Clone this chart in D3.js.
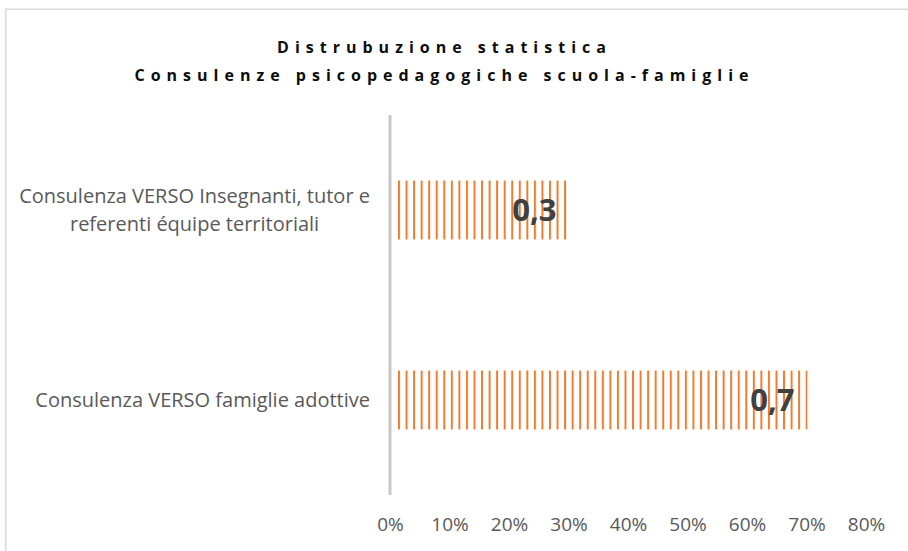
<!DOCTYPE html>
<html>
<head>
<meta charset="utf-8">
<script src="https://cdn.jsdelivr.net/npm/d3@7"></script>
<style>
  html, body { margin: 0; padding: 0; background: #fff; }
  svg { display: block; }
</style>
</head>
<body>
<svg id="chart" width="908" height="551"></svg>
<script>
// Data
const categories = [
  ["Consulenza VERSO Insegnanti, tutor e", "referenti équipe territoriali"],
  ["Consulenza VERSO famiglie adottive"]
];
const values = [0.3, 0.7];
const valueLabels = ["0,3", "0,7"];
const tickValues = [0, 0.1, 0.2, 0.3, 0.4, 0.5, 0.6, 0.7, 0.8];
const titleLines = ["Distrubuzione statistica", "Consulenze psicopedagogiche scuola-famiglie"];

const svg = d3.select("#chart");
const font = "'Open Sans', Lato, sans-serif";

// chart frame
svg.append("rect")
  .attr("x", 5.75).attr("y", 9.25)
  .attr("width", 940).attr("height", 600)
  .attr("fill", "none").attr("stroke", "#d9d9d9").attr("stroke-width", 1.5);

// vertical-line fill for the bars
const defs = svg.append("defs");
const pat = defs.append("pattern")
  .attr("id", "vlines")
  .attr("patternUnits", "userSpaceOnUse")
  .attr("x", 398).attr("y", 0)
  .attr("width", 7.55).attr("height", 10);
pat.append("rect").attr("x", 0).attr("y", 0).attr("width", 2).attr("height", 10).attr("fill", "#ed7d31");

const x = d3.scaleLinear().domain([0, 0.8]).range([390, 866]);
const y = d3.scaleBand().domain(d3.range(categories.length))
  .range([115, 495]).paddingInner(0.69).paddingOuter(0.345);

// title
svg.append("g").selectAll("text").data(titleLines).join("text")
  .attr("x", 444.5).attr("y", (d, i) => 53 + i * 28)
  .attr("text-anchor", "middle")
  .attr("font-family", font).attr("font-weight", "bold")
  .attr("font-size", 16).attr("letter-spacing", 6)
  .attr("fill", "#0d0d0d")
  .text(d => d);

// bars
svg.append("g").selectAll("rect").data(values).join("rect")
  .attr("x", x(0) + 8)
  .attr("y", (d, i) => y(i))
  .attr("width", d => x(d) - x(0) - 8 + 1)
  .attr("height", y.bandwidth())
  .attr("fill", "url(#vlines)");

// value labels
svg.append("g").selectAll("text").data(values).join("text")
  .attr("x", d => x(d) - 12)
  .attr("y", (d, i) => y(i) + y.bandwidth() / 2)
  .attr("dy", "0.36em")
  .attr("text-anchor", "end")
  .attr("font-family", font).attr("font-weight", "bold")
  .attr("font-size", 31).attr("fill", "#404040")
  .text((d, i) => valueLabels[i]);

// category axis line
svg.append("line")
  .attr("x1", x(0)).attr("x2", x(0))
  .attr("y1", 115).attr("y2", 495)
  .attr("stroke", "#c8c8c8").attr("stroke-width", 3);

// category labels: lines centred within a block right-aligned to the axis gap
const labelRight = 370;
const catG = svg.append("g");
categories.forEach((lines, i) => {
  const cy = y(i) + y.bandwidth() / 2;
  const lh = 28;
  const t = catG.append("text")
    .attr("text-anchor", "middle")
    .attr("font-family", font).attr("font-size", 20).attr("fill", "#595959");
  const spans = t.selectAll("tspan").data(lines).join("tspan")
    .attr("y", (d, j) => cy + (j - (lines.length - 1) / 2) * lh)
    .attr("dy", "0.35em")
    .text(d => d);
  const maxW = d3.max(spans.nodes(), n => n.getComputedTextLength());
  spans.attr("x", labelRight - maxW / 2);
});

// value axis labels
const xAxis = d3.axisBottom(x).tickValues(tickValues).tickSize(0).tickPadding(0)
  .tickFormat(d3.format(".0%"));
const gx = svg.append("g").attr("transform", "translate(0,517)").call(xAxis);
gx.select(".domain").remove();
gx.selectAll("text")
  .attr("font-family", font).attr("font-size", 19).attr("fill", "#595959");
</script>
</body>
</html>
